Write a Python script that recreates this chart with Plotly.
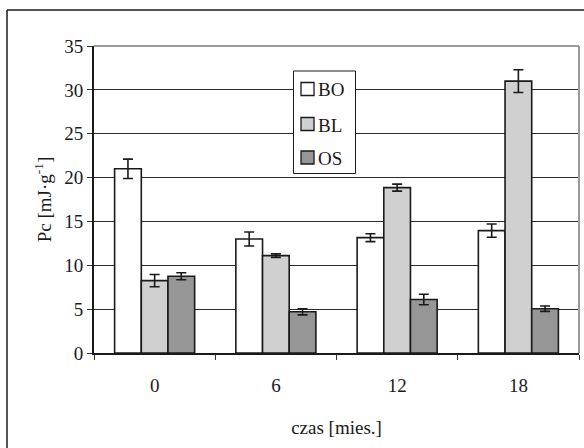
import plotly.graph_objects as go

# Pc over storage time for three sample types
months = ["0", "6", "12", "18"]
bo_vals = [21.0, 13.0, 13.15, 13.95]
bo_err = [1.1, 0.8, 0.45, 0.75]
bl_vals = [8.25, 11.1, 18.85, 31.0]
bl_err = [0.7, 0.2, 0.4, 1.3]
os_vals = [8.75, 4.7, 6.1, 5.05]
os_err = [0.4, 0.35, 0.6, 0.3]

series = [
    ("BO", bo_vals, bo_err, "#ffffff"),
    ("BL", bl_vals, bl_err, "#d0d0d0"),
    ("OS", os_vals, os_err, "#969696"),
]

FONT = "Liberation Serif, Times New Roman, serif"
INK = "#1a1a1a"
FS = 19

fig = go.Figure()
for name, vals, errs, color in series:
    fig.add_trace(go.Bar(
        name=name,
        x=months,
        y=vals,
        showlegend=False,
        marker=dict(color=color, line=dict(color=INK, width=1.6)),
        error_y=dict(type="data", array=errs, visible=True,
                     color=INK, thickness=1.6, width=5),
    ))

W, H = 584, 448
L, R, T, B = 94, 5, 46, 95
pw, ph = W - L - R, H - T - B

def px_x(x):
    return (x - L) / pw

def px_y(y):
    return (H - B - y) / ph

shapes = [
    # gray plot-area border along top and right
    dict(type="line", xref="paper", yref="paper", x0=0, x1=1, y0=1, y1=1,
         line=dict(color="#9a9a9a", width=2)),
    dict(type="line", xref="paper", yref="paper", x0=1, x1=1, y0=0, y1=1,
         line=dict(color="#9a9a9a", width=2)),
    # outer chart frame (left and top edges)
    dict(type="line", xref="paper", yref="paper",
         x0=px_x(7), x1=px_x(7), y0=px_y(450), y1=px_y(10),
         line=dict(color=INK, width=1.5)),
    dict(type="line", xref="paper", yref="paper",
         x0=px_x(7), x1=px_x(586), y0=px_y(10), y1=px_y(10),
         line=dict(color=INK, width=1.5)),
    # legend box
    dict(type="rect", xref="paper", yref="paper",
         x0=px_x(293.5), x1=px_x(355.5), y0=px_y(173.5), y1=px_y(71),
         fillcolor="white", line=dict(color=INK, width=1), layer="above"),
]
annotations = []

# legend entries: swatch + label
entry_y = [89, 124, 157.5]
for (name, _, _, color), cy in zip(series, entry_y):
    shapes.append(dict(
        type="rect", xref="paper", yref="paper",
        x0=px_x(301), x1=px_x(314), y0=px_y(cy + 6.5), y1=px_y(cy - 6.5),
        fillcolor=color, line=dict(color=INK, width=1.3), layer="above"))
    annotations.append(dict(
        text=name, xref="paper", yref="paper",
        x=px_x(316), y=px_y(cy + 1), xanchor="left", yanchor="middle",
        showarrow=False, font=dict(family=FONT, size=19, color=INK)))

fig.update_layout(
    width=W, height=H,
    margin=dict(l=L, r=R, t=T, b=B),
    paper_bgcolor="white",
    plot_bgcolor="white",
    barmode="group",
    bargap=0.34,
    bargroupgap=0,
    font=dict(family=FONT, size=FS, color=INK),
    showlegend=False,
    xaxis=dict(
        type="category",
        tickson="boundaries",
        ticks="outside", ticklen=5, tickwidth=1.2, tickcolor="#333",
        showline=True, linecolor=INK, linewidth=2,
        showgrid=False,
        ticklabelstandoff=14,
        tickfont=dict(family=FONT, size=FS),
        title=dict(text="czas [mies.]", standoff=26,
                   font=dict(family=FONT, size=FS)),
    ),
    yaxis=dict(
        range=[0, 35], tickvals=[0, 5, 10, 15, 20, 25, 30, 35],
        ticks="outside", ticklen=5, tickwidth=1.2, tickcolor="#333",
        showline=True, linecolor=INK, linewidth=2,
        showgrid=True, gridcolor="#2a2a2a", gridwidth=1.2,
        zeroline=False,
        tickfont=dict(family=FONT, size=FS),
        title=dict(text="Pc [mJ·g<sup>-1</sup>]", standoff=8,
                   font=dict(family=FONT, size=FS)),
    ),
    shapes=shapes,
    annotations=annotations,
)

fig.write_html("out.html")
